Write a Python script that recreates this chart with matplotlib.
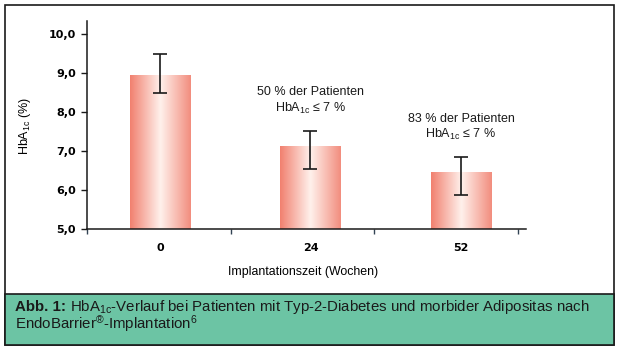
import numpy as np
import matplotlib.pyplot as plt
from matplotlib.patches import Rectangle
from matplotlib.colors import LinearSegmentedColormap

plt.rcParams['font.family'] = ['Liberation Sans', 'DejaVu Sans']
plt.rcParams['mathtext.fontset'] = 'custom'
plt.rcParams['mathtext.rm'] = 'Liberation Sans'
plt.rcParams['mathtext.it'] = 'Liberation Sans'
plt.rcParams['mathtext.bf'] = 'Liberation Sans:bold'

# Daten
wochen = ['0', '24', '52']
hba1c = [8.93, 7.12, 6.44]
fehler_oben = [9.49, 7.53, 6.86]
fehler_unten = [8.49, 6.54, 5.87]
y_ticks = [5, 6, 7, 8, 9, 10]
y_labels = ['5,0', '6,0', '7,0', '8,0', '9,0', '10,0']
notizen = [('50 % der Patienten', 'HbA$_{1c}$ ≤ 7 %'),
           ('83 % der Patienten', 'HbA$_{1c}$ ≤ 7 %')]

W, H = 617, 350
fig = plt.figure(figsize=(6.17, 3.5), dpi=100)

def px(x, y):
    return x / W, 1 - y / H

# Rahmen + Bildunterschrift
fig.patches.append(Rectangle(px(4.5, 345), 609.5 / W, 340 / H, transform=fig.transFigure,
                             facecolor='white', edgecolor='#1a1a1a', lw=1.2, zorder=-2))
fig.patches.append(Rectangle(px(4.5, 345), 609.5 / W, 51 / H, transform=fig.transFigure,
                             facecolor='#6cc4a4', edgecolor='#1a1a1a', lw=1.2, zorder=-1))
fs_cap = 10.8
t_abb = fig.text(*px(15, 307), 'Abb. 1:', fontsize=fs_cap, fontweight='bold',
                 va='center', ha='left', color='#1a1a1a')
r = fig.canvas.get_renderer()
bb = t_abb.get_window_extent(r)
fig.text(bb.x1 / W + 4 / W, px(0, 307)[1],
         'HbA$_{1c}$-Verlauf bei Patienten mit Typ-2-Diabetes und morbider Adipositas nach',
         fontsize=fs_cap, va='center', ha='left', color='#1a1a1a')
fig.text(*px(15, 324), 'EndoBarrier$^{®}$-Implantation$^{6}$',
         fontsize=fs_cap, va='center', ha='left', color='#1a1a1a')

x0, y0 = px(87, 229.3)
x1, y1 = px(526, 21)
ax = fig.add_axes([x0, y0, x1 - x0, y1 - y0])
ax.patch.set_alpha(0)

x = np.arange(len(wochen))
breite = 0.4
bars = ax.bar(x, hba1c, breite, color='none', zorder=2)

cmap = LinearSegmentedColormap.from_list('lachs', [(0, '#f1806f'), (0.5, '#fff1ec'), (1, '#f28d7e')])
grad = np.linspace(0, 1, 256).reshape(1, -1)
for b in bars:
    im = ax.imshow(grad, cmap=cmap, aspect='auto', zorder=1,
                   extent=[b.get_x(), b.get_x() + b.get_width(), 0, b.get_height()])
    im.set_clip_path(b)
    im.set_clip_box(ax.bbox)

yerr = [np.array(hba1c) - np.array(fehler_unten), np.array(fehler_oben) - np.array(hba1c)]
ax.errorbar(x, hba1c, yerr=yerr, fmt='none', ecolor='#1a1a1a', elinewidth=1.2,
            capsize=5.2, capthick=1.2, zorder=3)

for i, (z1, z2) in enumerate(notizen):
    ax.text(x[i + 1], fehler_oben[i + 1] + 0.98, z1, ha='center', va='center', fontsize=9, color='#1a1a1a')
    ax.text(x[i + 1], fehler_oben[i + 1] + 0.57, z2, ha='center', va='center', fontsize=9, color='#1a1a1a')

ax.set_xlim(-0.485, 2.432)
ax.set_ylim(5, 10.34)
ax.set_yticks(y_ticks)
ax.set_yticklabels(y_labels, fontfamily='DejaVu Sans', fontweight='bold', fontsize=8)
ax.set_xticks(x)
ax.set_xticklabels(wochen, fontfamily='DejaVu Sans', fontweight='bold', fontsize=8)
ax.set_xticks([-0.485, 0.472, 1.422, 2.379], minor=True)
ax.tick_params(axis='x', which='major', length=0, pad=10)
ax.tick_params(axis='x', which='minor', length=3.5, width=1, color='#334455', direction='out')
ax.tick_params(axis='y', length=4, width=1, direction='out', pad=4, color='#1a1a1a')

for s in ['top', 'right']:
    ax.spines[s].set_visible(False)
for s in ['left', 'bottom']:
    ax.spines[s].set_linewidth(1.1)
    ax.spines[s].set_color('#1a1a1a')

ax.set_xlabel('Implantationszeit (Wochen)', fontsize=8.9)
ax.xaxis.set_label_coords(0.492, -0.176)
ax.set_ylabel('HbA$_{1c}$ (%)', fontsize=9)
ax.yaxis.set_label_coords(-0.123, 0.496)

fig.savefig('out.png', dpi=100)
